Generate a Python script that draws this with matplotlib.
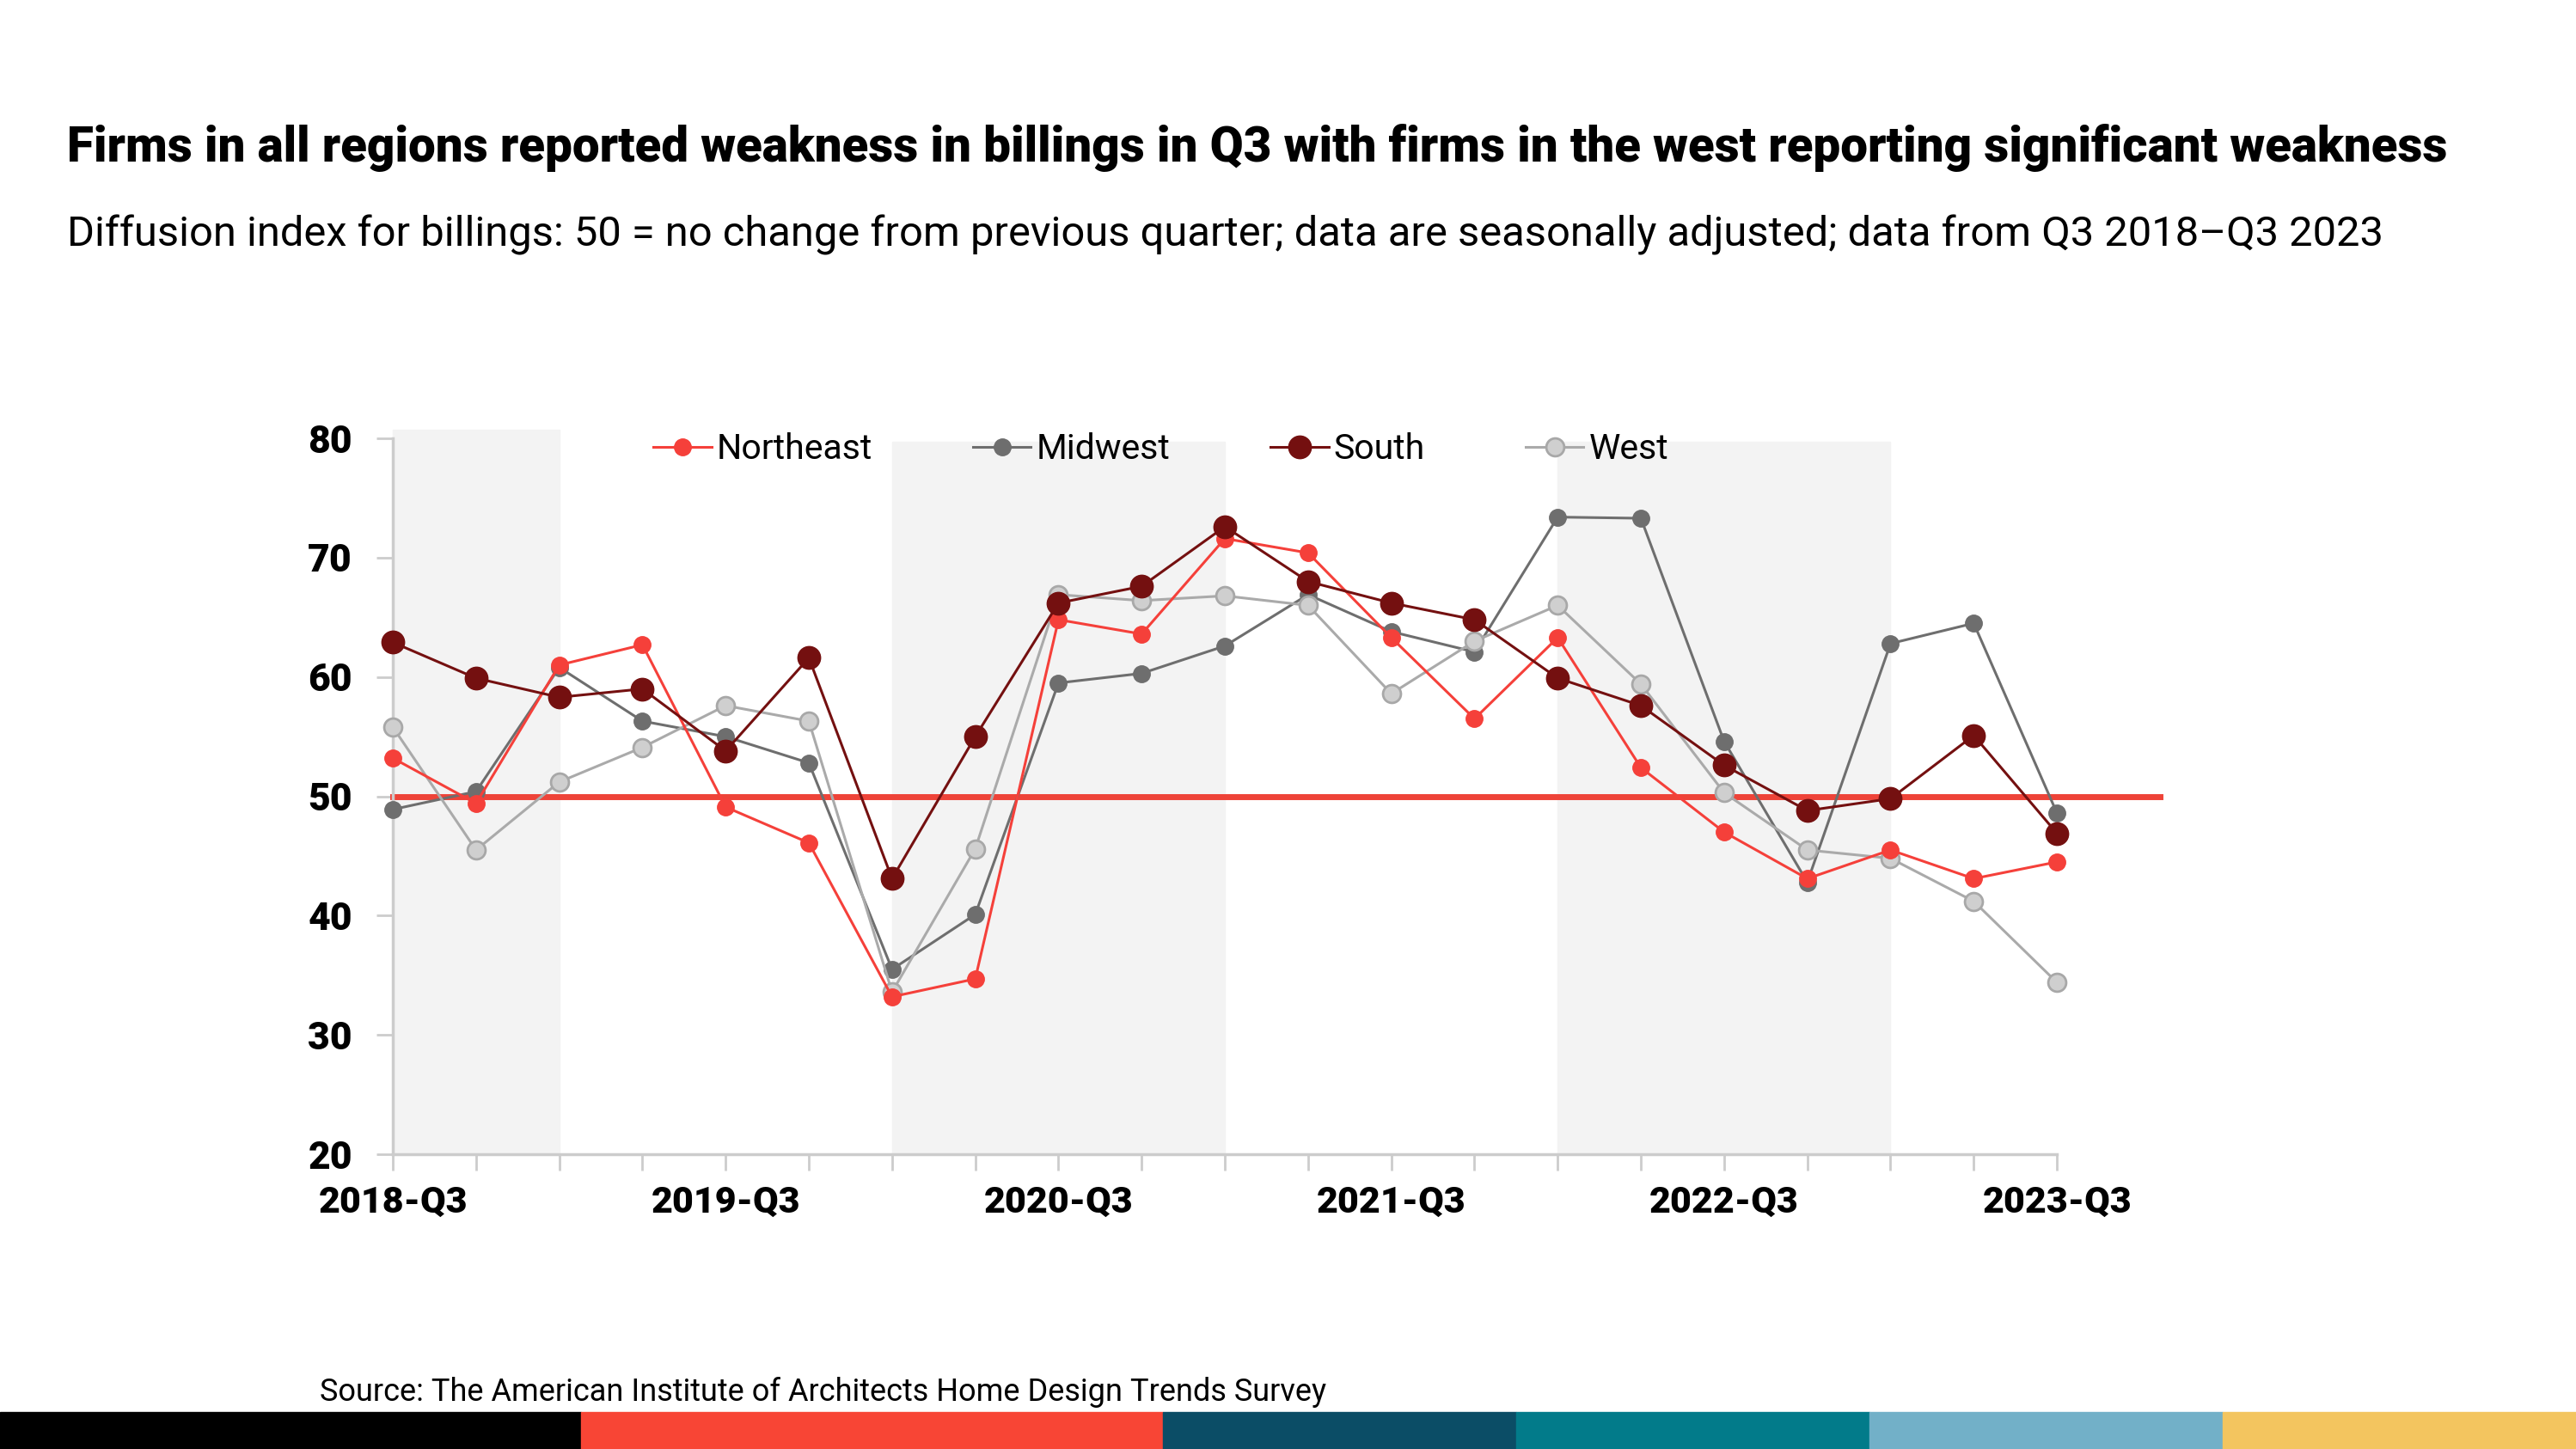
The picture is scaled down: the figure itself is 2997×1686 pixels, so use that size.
import matplotlib.pyplot as plt
from matplotlib.patches import Rectangle

plt.rcParams['font.family'] = ['Roboto', 'DejaVu Sans']

trimestres = ['2018-Q3', '2018-Q4', '2019-Q1', '2019-Q2', '2019-Q3', '2019-Q4', '2020-Q1', '2020-Q2',
              '2020-Q3', '2020-Q4', '2021-Q1', '2021-Q2', '2021-Q3', '2021-Q4', '2022-Q1', '2022-Q2',
              '2022-Q3', '2022-Q4', '2023-Q1', '2023-Q2', '2023-Q3']
northeast = [53.2, 49.4, 61.0, 62.7, 49.1, 46.1, 33.2, 34.7, 64.8, 63.6, 71.6,
             70.4, 63.3, 56.5, 63.3, 52.4, 47.0, 43.1, 45.5, 43.1, 44.5]
midwest = [48.9, 50.4, 60.8, 56.3, 55.0, 52.8, 35.5, 40.1, 59.5, 60.3, 62.6,
           66.9, 63.8, 62.1, 73.4, 73.3, 54.6, 42.8, 62.8, 64.5, 48.6]
south = [62.9, 59.9, 58.3, 59.0, 53.8, 61.6, 43.1, 55.0, 66.2, 67.6, 72.6,
         68.0, 66.2, 64.8, 59.9, 57.6, 52.6, 48.8, 49.8, 55.1, 46.9]
west = [55.8, 45.5, 51.2, 54.1, 57.6, 56.3, 33.6, 45.6, 66.9, 66.4, 66.8,
        66.0, 58.6, 63.0, 66.0, 59.4, 50.3, 45.5, 44.8, 41.2, 34.4]
rotulos_x = ['2018-Q3', '2019-Q3', '2020-Q3', '2021-Q3', '2022-Q3', '2023-Q3']
rotulos_y = [20, 30, 40, 50, 60, 70, 80]
faixas = [(0, 2), (6, 10), (14, 18)]
cores_barra = ['#000000', '#F84535', '#0B4D66', '#027B8A', '#72B0C8', '#F3C55F']

fig = plt.figure(figsize=(29.97, 16.86), dpi=100)

fig.text(0.026, 0.898, 'Firms in all regions reported weakness in billings in Q3 with firms in the west reporting significant weakness',
         fontsize=40.7, fontweight='black', va='center', ha='left')
fig.text(0.026, 0.838, 'Diffusion index for billings: 50 = no change from previous quarter; data are seasonally adjusted; data from Q3 2018\u2013Q3 2023',
         fontsize=35.2, va='center', ha='left')

ax = fig.add_axes([0.1525, 0.2034, 0.646, 0.4941])
x = list(range(len(trimestres)))

# faixas cinza
for i, (a, b) in enumerate(faixas):
    topo = 80.7 if i == 0 else 79.7
    ax.add_patch(Rectangle((a, 20), b - a, topo - 20, color='#f3f3f3', zorder=0, clip_on=False))

ax.plot([0, 21.24], [50, 50], color='#EE4338', lw=5, zorder=2, clip_on=False)

ax.plot(x, northeast, color='#F5403A', lw=2.2, marker='o', ms=14, label='Northeast', zorder=4, clip_on=False)
ax.plot(x, midwest, color='#6E6E6E', lw=2.2, marker='o', ms=14, label='Midwest', zorder=3, clip_on=False)
ax.plot(x, south, color='#741010', lw=2.2, marker='o', ms=19, label='South', zorder=5, clip_on=False)
ax.plot(x, west, color='#AAAAAA', lw=2.2, marker='o', ms=15, mfc='#CFCFCF', mec='#A8A8A8', mew=2,
        label='West', zorder=3, clip_on=False)

ax.set_xlim(0, 20)
ax.set_ylim(20, 80)
ax.set_yticks(rotulos_y)
ax.set_yticklabels([str(v) for v in rotulos_y], fontsize=32, fontweight='black')
ax.set_xticks(x)
ax.set_xticklabels([t if t in rotulos_x else '' for t in trimestres], fontsize=31, fontweight='black')
ax.tick_params(axis='x', length=14, width=2, color='#cccccc', pad=12)
ax.tick_params(axis='y', length=14, width=2, color='#cccccc', pad=20)
for s in ['top', 'right']:
    ax.spines[s].set_visible(False)
for s in ['left', 'bottom']:
    ax.spines[s].set_color('#cccccc')
    ax.spines[s].set_linewidth(2.5)
ax.set_facecolor('none')

ax.legend(loc='center left', bbox_to_anchor=(0.148, 0.985), ncol=4, frameon=False, fontsize=29.5,
          handlelength=1.65, handletextpad=0.15, columnspacing=2.85, borderaxespad=0)

fig.text(0.124, 0.039, 'Source: The American Institute of Architects Home Design Trends Survey', fontsize=26,
         va='center', ha='left')

# barra colorida no rodape
larguras = [676, 677, 411, 411, 411, 411]
inicio = 0
for c, w in zip(cores_barra, larguras):
    fig.patches.append(Rectangle((inicio / 2997, 0), w / 2997, 43 / 1686, transform=fig.transFigure,
                                 color=c, zorder=0))
    inicio += w

fig.savefig('out.png', dpi=100)
